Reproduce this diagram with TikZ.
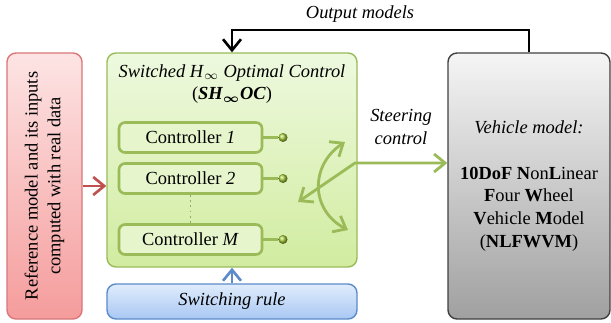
\documentclass[tikz,border=0pt]{standalone}
\usepackage{amsmath}
\usepackage{bm}
\usepackage{fontspec}
\setmainfont{Liberation Serif}
\usetikzlibrary{arrows.meta}

\definecolor{redline}{HTML}{D9777A}
\definecolor{redarrow}{HTML}{C0504D}
\definecolor{redtop}{HTML}{FDE4E4}
\definecolor{redbot}{HTML}{F59C9C}
\definecolor{ctrlgreen}{HTML}{9BBB59}
\definecolor{ballgreen}{HTML}{A6CC3C}
\definecolor{greentop}{HTML}{EEF9DF}
\definecolor{greenbot}{HTML}{D1ECA0}
\definecolor{ctrlfill}{HTML}{E6F5CC}
\definecolor{blueline}{HTML}{5B8BC9}
\definecolor{bluetop}{HTML}{E0ECFC}
\definecolor{bluebot}{HTML}{A8C8F2}
\definecolor{graytop}{HTML}{F5F5F5}
\definecolor{graybot}{HTML}{A0A0A0}

\newcommand\figsize{\fontsize{10.5}{13}\selectfont}

\begin{document}
\begin{tikzpicture}[
    every node/.style={font=\figsize},
    >={Straight Barb[length=2.2mm,width=3.6mm]},
    blockbox/.style={draw, rounded corners=0.18cm, line width=0.8pt, inner sep=0pt},
    ctrlbox/.style={draw=ctrlgreen, fill=ctrlfill, rounded corners=0.12cm, line width=1.5pt,
        minimum width=2.86cm, minimum height=0.6cm, inner sep=0pt},
    ball/.style={circle, shading=ball, ball color=ballgreen, minimum size=0.18cm, inner sep=0pt},
    garrow/.style={draw=ctrlgreen, line width=1.6pt},
]
            \useasboundingbox (0,0) rectangle (12.22,-6.44);
            % input block
            \node[blockbox, draw=redline, top color=redtop, bottom color=redbot,
                minimum width=1.5cm, minimum height=5.32cm] (ref) at (0.89,-3.72) {};
            \node[rotate=90, align=center] (reftext) at (ref) {Reference model and its inputs\\computed with real data};
            % controller block
            \node[blockbox, draw=ctrlgreen, top color=greentop, bottom color=greenbot,
                minimum width=5cm, minimum height=4.28cm] (soc) at (4.64,-3.2) {};
            \node[align=center] (soctitle) at (4.64,-1.68) {\textit{Switched H}$_\infty$ \textit{Optimal Control}\\(\textbf{\textit{SH}}$_{\boldsymbol{\infty}}$\textbf{\textit{OC}})};
            \node[ctrlbox] (c1) at (3.81,-2.75) {Controller \textit{1}};
            \node[ctrlbox] (c2) at (3.81,-3.57) {Controller \textit{2}};
            \node[ctrlbox] (cM) at (3.81,-4.79) {Controller \textit{M}};
            \node[ball] (b1) at (5.66,-2.75) {};
            \node[ball] (b2) at (5.66,-3.57) {};
            \node[ball] (bM) at (5.66,-4.79) {};
            \draw[ctrlgreen, line width=1.5pt] (c1) -- (b1);
            \draw[ctrlgreen, line width=1.5pt] (c2) -- (b2);
            \draw[ctrlgreen, line width=1.5pt] (cM) -- (bM);
            \draw[ctrlgreen!70!gray, line width=1pt, dotted] (c2) -- (cM);
            % switching rule
            \node[blockbox, draw=blueline, top color=bluetop, bottom color=bluebot,
                minimum width=5cm, minimum height=0.7cm, font=\figsize\itshape] (sw) at (4.64,-6.03) {Switching rule};
            % vehicle block
            \node[blockbox, draw=black!75, top color=graytop, bottom color=graybot,
                minimum width=3.24cm, minimum height=5.32cm] (veh) at (10.58,-3.72) {};
            \node[align=center] (vehtext) at (veh) {\textit{Vehicle model:}\\[13pt]
                \textbf{10DoF N}on\textbf{L}inear\\\textbf{F}our \textbf{W}heel\\\textbf{V}ehicle \textbf{M}odel\\(\textbf{NLFWVM})};
            % steering
            \coordinate (sj) at (7.1,-3.26);
            \coordinate (sl) at (5.96,-4.04);
            \coordinate (at) at (6.9,-2.84);
            \coordinate (ab) at (6.96,-4.6);
            \draw[garrow, <->] (sl) -- (sj) -- (veh.west |- sj);
            \draw[garrow, <->] (at) .. controls (6.2,-3.3) and (6.2,-4.2) .. (ab);
            \node[align=center, font=\figsize\itshape] (steer) at (8.02,-2.54) {Steering\\control};
            % feedback
            \coordinate (fb) at (4.64,-0.6);
            \draw[line width=1.5pt, ->] (veh.north) |- (fb) -- (soc.north);
            \node[font=\figsize\itshape] (outlbl) at (7.2,-0.28) {Output models};
            % inputs
            \draw[redarrow, line width=1.5pt, ->] (ref.east) -- (soc.west |- ref.east);
            \draw[blueline, line width=1.5pt, ->] (sw) -- (soc);
        \end{tikzpicture}
\end{document}
